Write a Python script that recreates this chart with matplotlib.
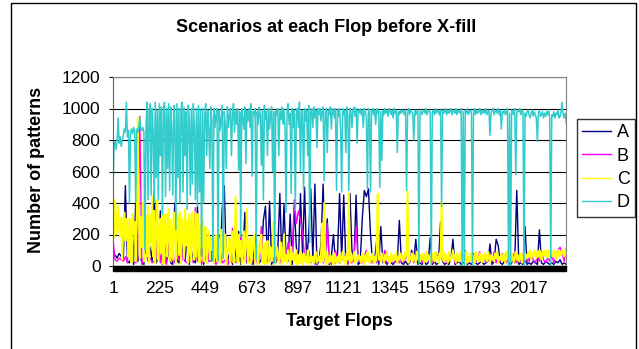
import numpy as np
import matplotlib
matplotlib.use("Agg")
import matplotlib.pyplot as plt
import matplotlib.transforms as mtransforms
from matplotlib.patches import Rectangle

plt.rcParams['font.family'] = ['Liberation Sans', 'DejaVu Sans']

# A and B sampled every 10 flops, C and D every 5 flops
series_a = [
    60, 70, 50, 80, 60, 40, 510, 30, 20, 60, 10, 400, 30, 80, 20, 10, 300, 40, 120, 30,
    480, 20, 60, 350, 10, 150, 30, 90, 20, 10, 400, 40, 20, 210, 60, 30, 200, 10, 100, 40,
    20, 380, 40, 150, 10, 200, 60, 30, 120, 20, 40, 100, 30, 360, 510, 20, 50, 100, 10, 140,
    30, 220, 10, 60, 340, 20, 150, 30, 10, 200, 60, 20, 40, 290, 380, 30, 410, 10, 50, 20,
    100, 460, 20, 390, 60, 30, 330, 10, 380, 120, 20, 460, 80, 500, 30, 200, 490, 40, 520, 10,
    30, 150, 520, 40, 300, 10, 60, 200, 20, 80, 460, 40, 450, 30, 20, 460, 100, 30, 450, 10,
    20, 300, 480, 440, 490, 200, 20, 40, 160, 10, 250, 20, 30, 10, 40, 20, 10, 30, 20, 290,
    20, 10, 30, 10, 20, 100, 30, 170, 10, 20, 10, 30, 10, 20, 180, 10, 30, 10, 20, 280,
    30, 10, 20, 10, 40, 170, 10, 20, 30, 10, 20, 80, 10, 20, 10, 30, 20, 10, 20, 30,
    10, 20, 30, 140, 10, 30, 170, 130, 20, 10, 30, 90, 20, 10, 30, 20, 480, 10, 20, 10,
    250, 10, 20, 10, 30, 20, 10, 230, 20, 10, 30, 20, 10, 20, 10, 30, 20, 40, 10, 20,
    10,
]

series_b = [
    170, 40, 30, 50, 40, 30, 60, 20, 280, 250, 30, 20, 40, 950, 10, 60, 100, 30, 50, 20,
    30, 60, 230, 20, 100, 40, 10, 150, 30, 60, 20, 180, 40, 10, 90, 30, 20, 40, 50, 20,
    370, 30, 60, 10, 100, 40, 20, 150, 30, 60, 10, 40, 200, 20, 30, 50, 10, 90, 240, 30,
    20, 30, 210, 40, 100, 30, 60, 10, 40, 80, 20, 30, 250, 40, 10, 60, 30, 100, 20, 50,
    40, 20, 100, 60, 30, 150, 20, 60, 420, 270, 350, 290, 210, 60, 30, 100, 20, 40, 10, 60,
    30, 100, 20, 60, 270, 30, 10, 60, 100, 40, 20, 60, 30, 80, 10, 40, 20, 60, 250, 30,
    40, 20, 60, 100, 30, 20, 60, 40, 20, 80, 60, 30, 100, 20, 40, 70, 20, 30, 50, 20,
    60, 20, 40, 90, 30, 60, 20, 100, 40, 70, 20, 50, 90, 30, 60, 20, 40, 80, 30, 60,
    40, 80, 20, 60, 30, 90, 20, 50, 30, 70, 40, 100, 20, 60, 30, 80, 20, 50, 90, 30,
    60, 20, 80, 40, 30, 90, 20, 60, 30, 80, 40, 20, 70, 30, 50, 90, 20, 60, 30, 40,
    20, 60, 30, 80, 40, 20, 60, 30, 90, 40, 20, 50, 30, 70, 20, 60, 100, 120, 80, 30,
    110,
]

series_c = [
    450, 180, 420, 300, 200, 380, 250, 190, 310, 40, 260, 340, 160, 300, 230, 60, 300, 250, 20, 330,
    200, 280, 30, 340, 940, 380, 50, 310, 120, 400, 30, 350, 290, 60, 380, 20, 320, 150, 440, 60,
    350, 20, 260, 420, 40, 190, 300, 80, 380, 10, 250, 330, 60, 200, 360, 30, 290, 220, 40, 340,
    280, 20, 350, 310, 70, 340, 10, 300, 220, 50, 360, 130, 280, 20, 330, 260, 30, 340, 180, 40,
    340, 60, 330, 150, 20, 260, 120, 300, 30, 200, 250, 20, 160, 220, 40, 180, 100, 230, 20, 150,
    200, 30, 120, 170, 20, 230, 100, 40, 150, 200, 10, 120, 90, 180, 30, 140, 220, 20, 100, 440,
    130, 20, 200, 60, 160, 10, 90, 220, 30, 140, 360, 20, 110, 180, 10, 80, 150, 200, 20, 70,
    160, 10, 120, 90, 200, 20, 60, 140, 10, 100, 160, 20, 70, 120, 30, 90, 280, 10, 60, 120,
    80, 20, 60, 150, 10, 90, 200, 30, 70, 20, 100, 60, 10, 120, 40, 80, 20, 60, 100, 10,
    70, 20, 90, 40, 10, 80, 30, 60, 20, 100, 40, 10, 70, 30, 60, 20, 50, 90, 20, 40,
    60, 20, 80, 270, 30, 400, 60, 10, 90, 40, 20, 70, 30, 60, 10, 80, 40, 20, 60, 30,
    70, 20, 50, 90, 30, 60, 10, 80, 40, 460, 20, 70, 30, 60, 90, 20, 50, 30, 70, 40,
    60, 20, 80, 40, 10, 70, 30, 90, 50, 20, 60, 40, 80, 20, 60, 30, 90, 460, 40, 60,
    30, 80, 50, 20, 70, 40, 90, 30, 60, 20, 80, 50, 30, 70, 40, 90, 20, 60, 40, 80,
    50, 30, 70, 40, 90, 60, 480, 20, 60, 40, 80, 30, 70, 50, 20, 90, 40, 60, 30, 70,
    40, 80, 20, 60, 90, 30, 70, 40, 60, 20, 80, 50, 30, 90, 40, 60, 20, 80, 50, 410,
    60, 30, 80, 40, 70, 20, 90, 50, 30, 60, 100, 40, 70, 20, 80, 50, 30, 90, 40, 60,
    30, 70, 50, 90, 20, 60, 40, 80, 30, 70, 50, 20, 90, 40, 60, 30, 80, 50, 20, 70,
    40, 80, 60, 30, 90, 50, 20, 70, 40, 60, 30, 80, 50, 90, 20, 60, 40, 70, 30, 80,
    50, 20, 90, 60, 40, 70, 30, 80, 50, 20, 60, 90, 40, 70, 30, 50, 80, 20, 60, 90,
    40, 70, 50, 90, 60, 100, 40, 80, 60, 100, 70, 50, 90, 60, 100, 80, 40, 90, 70, 100,
    60, 90, 100, 70, 50, 100, 80, 60, 100, 90, 40, 80, 100, 60, 90, 70, 100, 80, 60, 100,
    70,
]

series_d = [
    480, 760, 790, 740, 800, 940, 780, 820, 760, 800, 830, 870, 850, 1040, 820, 860, 400, 850, 870, 840,
    880, 860, 410, 870, 850, 880, 940, 870, 860, 880, 850, 100, 870, 1040, 420, 980, 1030, 450, 1000, 860,
    400, 1040, 560, 990, 420, 1030, 700, 1010, 330, 980, 1040, 440, 1000, 620, 1030, 480, 1010, 880, 450, 1020,
    960, 230, 1030, 560, 1000, 400, 990, 1040, 470, 1010, 700, 980, 360, 1020, 940, 450, 1000, 520, 1030, 880,
    420, 1000, 380, 1020, 470, 990, 60, 1000, 400, 960, 1030, 700, 990, 860, 620, 1010, 920, 30, 1000, 880,
    960, 1000, 30, 990, 860, 940, 1020, 50, 980, 900, 620, 1010, 880, 960, 1000, 700, 970, 1030, 850, 990,
    900, 1000, 610, 980, 190, 1000, 940, 870, 1010, 650, 990, 920, 1000, 880, 1030, 570, 980, 960, 1000, 40,
    980, 900, 1010, 960, 640, 990, 420, 1020, 930, 980, 700, 1000, 870, 960, 1010, 600, 980, 20, 990, 960,
    1000, 700, 980, 930, 1010, 900, 1000, 880, 340, 990, 1030, 900, 970, 460, 1000, 880, 990, 350, 960, 1000,
    880, 1040, 600, 980, 990, 480, 1000, 920, 990, 700, 1020, 150, 980, 1000, 880, 1010, 940, 990, 750, 1000,
    960, 1000, 920, 990, 1010, 540, 980, 1000, 720, 990, 960, 1010, 870, 1000, 980, 940, 1000, 480, 990, 950,
    1000, 860, 470, 1000, 960, 990, 720, 1010, 960, 480, 1000, 980, 880, 990, 1010, 950, 1000, 780, 990, 970,
    1000, 960, 990, 880, 1000, 980, 950, 490, 1000, 990, 470, 980, 1000, 960, 990, 900, 1000, 970, 990, 500,
    980, 670, 990, 960, 1000, 970, 990, 950, 1000, 980, 960, 990, 940, 1000, 970, 990, 720, 980, 960, 990,
    970, 990, 980, 960, 990, 480, 970, 1000, 960, 990, 980, 970, 800, 990, 960, 980, 990, 10, 970, 990,
    960, 980, 990, 970, 1000, 960, 980, 990, 970, 10, 980, 990, 960, 1000, 970, 990, 980, 960, 990, 380,
    990, 970, 980, 1000, 960, 990, 970, 980, 1000, 960, 990, 980, 970, 1000, 960, 990, 980, 970, 1000, 0,
    980, 0, 990, 970, 1000, 960, 980, 990, 970, 0, 980, 1000, 960, 990, 970, 980, 1000, 960, 990, 970,
    990, 970, 1000, 960, 980, 990, 830, 970, 990, 1000, 960, 980, 990, 970, 1000, 960, 990, 870, 980, 970,
    990, 960, 980, 1000, 0, 970, 0, 990, 980, 960, 1000, 580, 970, 990, 980, 1000, 960, 990, 980, 0,
    970, 950, 980, 990, 960, 940, 970, 990, 950, 980, 960, 940, 790, 970, 990, 950, 960, 980, 940, 970,
    950, 980, 960, 990, 940, 0, 960, 950, 980, 940, 970, 960, 990, 940, 950, 980, 1040, 960, 940, 970,
    910,
]

names = ['A', 'B', 'C', 'D']
steps = [10, 10, 5, 5]
widths = [1.0, 1.0, 1.4, 1.1]
colors = ['#000080', '#FF00FF', '#FFFF00', '#33CCCC']
tick_flops = [1, 225, 449, 673, 897, 1121, 1345, 1569, 1793, 2017]

fig = plt.figure(figsize=(6.39, 3.49), dpi=100)
ax = fig.add_axes([113 / 639, 1 - 266 / 349, 453 / 639, 189 / 349])

for vals, step, lw, name, col in zip([series_a, series_b, series_c, series_d],
                                     steps, widths, names, colors):
    flops = 1 + step * np.arange(len(vals))
    ax.plot(flops, vals, color=col, linewidth=lw, label=name)

ax.set_xlim(1, 2200)
ax.set_ylim(0, 1200)
ax.set_yticks(range(0, 1201, 200))
ax.set_xticks(tick_flops)
ax.yaxis.grid(True, color='black', linewidth=0.8)
ax.set_axisbelow(True)

for side in ['top', 'right']:
    ax.spines[side].set_color('#808080')
ax.spines['left'].set_color('#606060')
ax.spines['bottom'].set_color('black')

ax.tick_params(axis='y', direction='out', length=3, width=0.8, pad=6, labelsize=12.5)
ax.tick_params(axis='x', length=0, pad=11, labelsize=12.5)

# dense category tick marks below the axis show as a black band
trans = mtransforms.blended_transform_factory(ax.transData, ax.transAxes)
ax.add_patch(Rectangle((1, -0.027), 2199, 0.027, transform=trans,
                       color='black', clip_on=False))

fig.text(326 / 639, 1 - 27.5 / 349, 'Scenarios at each Flop before X-fill',
         ha='center', va='center', fontsize=13, fontweight='bold')
fig.text(339 / 639, 1 - 322 / 349, 'Target Flops',
         ha='center', va='center', fontsize=13, fontweight='bold')
fig.text(37 / 639, 1 - 170 / 349, 'Number of patterns', rotation=90,
         ha='center', va='center', fontsize=13, fontweight='bold')

leg = fig.legend(loc='upper left', bbox_to_anchor=(577 / 639, 1 - 119 / 349),
                 frameon=True, fancybox=False, fontsize=13, handlelength=1.6,
                 handletextpad=0.3, labelspacing=0.35, borderpad=0.3,
                 borderaxespad=0)
leg.get_frame().set_edgecolor('black')
leg.get_frame().set_linewidth(1.0)
for line in leg.get_lines():
    line.set_linewidth(1.0)

# outer chart frame
fig.patches.append(Rectangle((11 / 639, -0.05), 625 / 639, 1.05 - 3 / 349,
                             transform=fig.transFigure, fill=False,
                             edgecolor='black', linewidth=1.0))

fig.savefig('out.png', dpi=100)
